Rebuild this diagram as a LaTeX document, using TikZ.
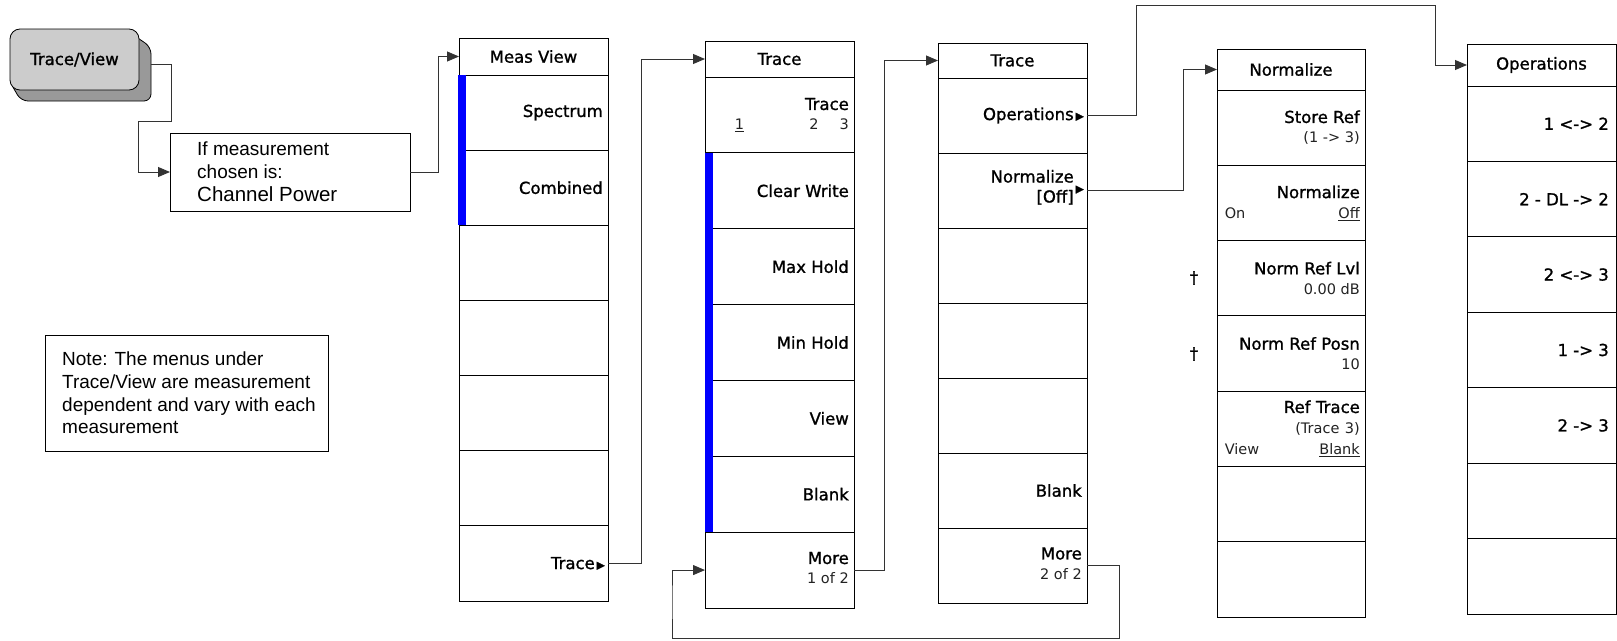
\documentclass[tikz,border=0pt]{standalone}
\usepackage{fontspec}
\setmainfont{DejaVu Sans}[BoldFont={DejaVu Sans}, BoldFeatures={FakeBold=1.2}]
\newfontfamily\arialf{Liberation Sans}
\usetikzlibrary{arrows.meta}
\definecolor{keygray}{HTML}{CCCCCC}
\definecolor{keydark}{HTML}{999999}
\definecolor{linegray}{HTML}{333333}
\definecolor{selblue}{HTML}{0000FF}
\definecolor{subgray}{HTML}{222222}
\newcommand\bigf{\fontsize{16.5}{20}\selectfont\bfseries}
\newcommand\smf{\fontsize{14.5}{20}\selectfont\mdseries\color{subgray}}
\newcommand\tri{\hspace{2pt}\raisebox{0.5pt}{\fontsize{10.5}{10}\selectfont ▶}}
\newcommand\mkmenu[6]{%
  \pgfmathsetmacro\mnw{#3-#2}%
  \pgfmathsetmacro\mnh{#5-#4}%
  \pgfmathsetmacro\mnr{(#6-#5)/7}%
  \node[box, anchor=north west, minimum width=\mnw pt, minimum height=\mnh pt] (#1-0) at (#2,#4) {};%
  \foreach \i in {1,...,7}{%
    \pgfmathsetmacro\mny{#5+(\i-1)*\mnr}%
    \node[box, anchor=north west, minimum width=\mnw pt, minimum height=\mnr pt] (#1-\i) at (#2,\mny) {};%
  }%
}
\begin{document}
\begin{tikzpicture}[x=1pt,y=-1pt,
  box/.style={draw=black, line width=0.8pt, inner sep=0pt, outer sep=0pt},
  lab/.style={inner sep=0pt, font=\bigf, anchor=east, align=right},
  hdr/.style={inner sep=0pt, font=\bigf},
  conn/.style={draw=linegray, line width=0.9pt},
  arr/.style={conn, -{Triangle[length=12pt,width=10pt]}},
  selbar/.style={fill=selblue}]
\useasboundingbox (0,0) rectangle (1617,640);

% hard key
\filldraw[fill=keydark, draw=black, line width=0.8pt, rounded corners=7pt]
  (126,30) -- (151,47) -- (151,101) -- (21,101) -- (10,82) -- cycle;
\node[box, fill=keygray, rounded corners=10pt, anchor=north west,
  minimum width=129pt, minimum height=61pt, font=\bigf] (key) at (10,29) {Trace/View};
\coordinate (keyout) at (151,64);

% condition box
\node[box, anchor=north west, minimum width=240pt, minimum height=78pt] (cond) at (170,133) {};
\node[inner sep=0pt, anchor=west, align=left, font=\arialf\fontsize{19}{23}\selectfont] (condtxt) at (197,172)
  {If measurement\\chosen is:\\{\fontsize{20.5}{23}\selectfont Channel Power}};

% note box
\node[box, anchor=north west, minimum width=283pt, minimum height=116pt] (note) at (45,335) {};
\node[inner sep=0pt, anchor=west, align=left, font=\arialf\fontsize{19}{22.7}\selectfont] (notetxt) at (62,393)
  {Note: The menus under\\Trace/View are measurement\\dependent and vary with each\\measurement};

% menus
\mkmenu{mv}{459}{608}{38}{75}{601}
\mkmenu{t1}{705}{854}{41}{77}{608}
\mkmenu{t2}{938}{1087}{43}{78}{603}
\mkmenu{nz}{1217}{1365}{49}{90}{617}
\mkmenu{op}{1467}{1616}{44}{86}{614}

\fill[selbar] ([xshift=-1pt]mv-1.north west) rectangle ([xshift=7pt]mv-2.south west);
\fill[selbar] (t1-2.north west) rectangle ([xshift=8pt]t1-6.south west);

% Meas View labels
\node[hdr] (mv-h) at (mv-0) {Meas View};
\node[lab] (mv-a) at ([xshift=-5pt]mv-1.east) {Spectrum};
\node[lab] (mv-b) at ([xshift=-5pt]mv-2.east) {Combined};
\node[lab] (mv-c) at ([xshift=-3pt]mv-7.east) {Trace\tri};

% Trace 1 labels
\node[hdr] (t1-h) at (t1-0) {Trace};
\node[lab, text width=114pt] (t1-a) at ([xshift=-5pt]t1-1.east) {Trace\\{\smf\underline{1}\hfill 2\hspace{21pt}3}};
\node[lab] (t1-b) at ([xshift=-5pt]t1-2.east) {Clear Write};
\node[lab] (t1-c) at ([xshift=-5pt]t1-3.east) {Max Hold};
\node[lab] (t1-d) at ([xshift=-5pt]t1-4.east) {Min Hold};
\node[lab] (t1-e) at ([xshift=-5pt]t1-5.east) {View};
\node[lab] (t1-f) at ([xshift=-5pt]t1-6.east) {Blank};
\node[lab] (t1-g) at ([xshift=-5pt, yshift=2pt]t1-7.east) {More\\{\smf 1 of 2}};

% Trace 2 labels
\node[hdr] (t2-h) at (t2-0) {Trace};
\node[lab] (t2-a) at ([xshift=-3pt]t2-1.east) {Operations\tri};
\node[lab] (t2-b) at ([xshift=-3pt, yshift=2pt]t2-2.east) {\begin{tabular}{@{}r@{}}Normalize\\{[Off]}\end{tabular}\tri};
\node[lab] (t2-f) at ([xshift=-5pt]t2-6.east) {Blank};
\node[lab] (t2-g) at ([xshift=-5pt, yshift=2pt]t2-7.east) {More\\{\smf 2 of 2}};

% Normalize labels
\node[hdr] (nz-h) at (nz-0) {Normalize};
\node[lab] (nz-a) at ([xshift=-5pt]nz-1.east) {Store Ref\\{\smf(1 -> 3)}};
\node[lab, text width=135pt] (nz-b) at ([xshift=-5pt]nz-2.east) {Normalize\\{\smf On\hfill\underline{Off}}};
\node[lab] (nz-c) at ([xshift=-5pt]nz-3.east) {Norm Ref Lvl\\{\smf 0.00 dB}};
\node[lab] (nz-d) at ([xshift=-5pt]nz-4.east) {Norm Ref Posn\\{\smf 10}};
\node[lab, text width=135pt, font=\fontsize{16.5}{21}\selectfont\bfseries] (nz-e) at ([xshift=-5pt]nz-5.east)
  {Ref Trace\\{\smf(Trace 3)}\\{\smf View\hfill\underline{Blank}}};
\node[hdr] (dg1) at (1194,278) {†};
\node[hdr] (dg2) at (1194,354) {†};

% Operations labels
\node[hdr] (op-h) at (op-0) {Operations};
\node[lab] (op-a) at ([xshift=-7pt]op-1.east) {1 <-> 2};
\node[lab] (op-b) at ([xshift=-7pt]op-2.east) {2 - DL -> 2};
\node[lab] (op-c) at ([xshift=-7pt]op-3.east) {2 <-> 3};
\node[lab] (op-d) at ([xshift=-7pt]op-4.east) {1 -> 3};
\node[lab] (op-e) at ([xshift=-7pt]op-5.east) {2 -> 3};

% connectors
\draw[arr] (keyout) -- (171,64) -- (171,121) -- (138,121) |- (cond.west);
\draw[arr] (cond.east) -- ++(28,0) |- (mv-0.west);
\draw[arr] (mv-7.east) -- ++(33,0) |- (t1-0.west);
\draw[arr] (t1-7.east) -- ++(30,0) |- (t2-0.west);
\draw[arr] (t2-1.east) -| (1136,5) -- (1435,5) |- (op-0.west);
\draw[arr] (t2-2.east) -- ++(96,0) |- (nz-0.west);
\draw[arr] (t2-7.east) -| (1119,638) -| (672,600) |- (t1-7.west);
\end{tikzpicture}
\end{document}
